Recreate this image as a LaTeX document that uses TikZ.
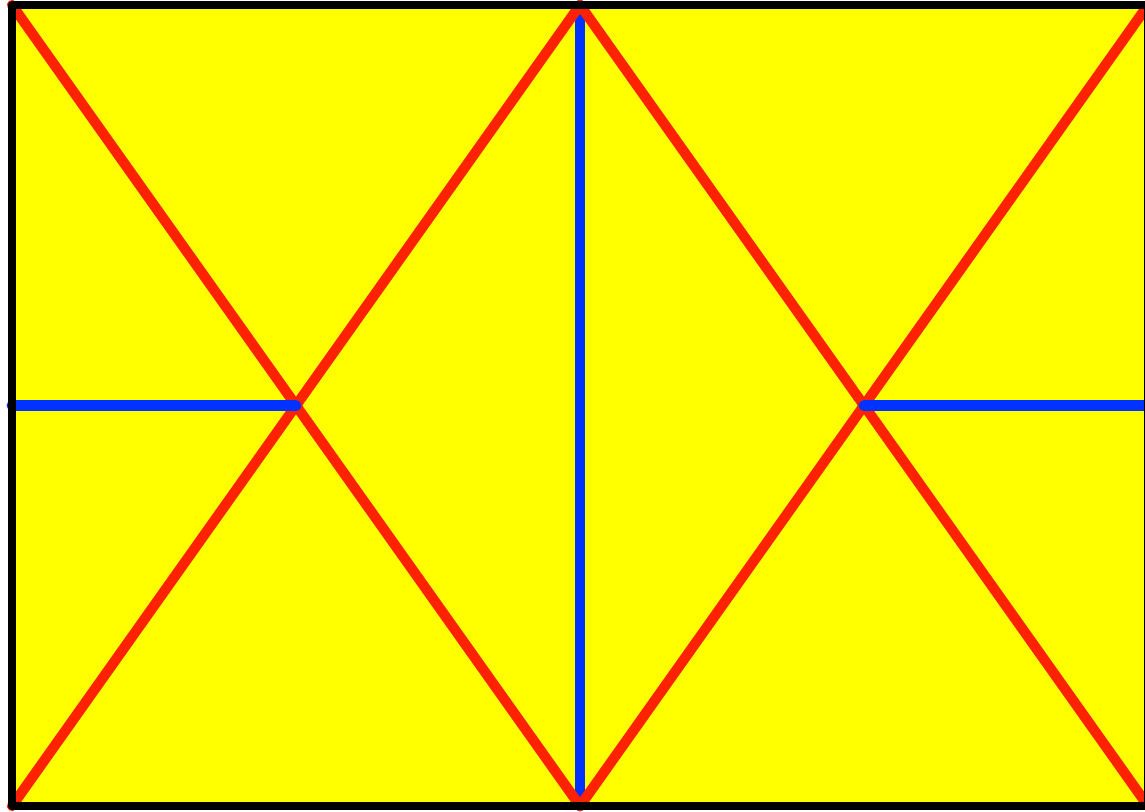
\documentclass[tikz,border=0pt]{standalone}
\definecolor{fillyel}{RGB}{255,255,0}
\definecolor{redl}{RGB}{255,34,0}
\definecolor{bluel}{RGB}{0,51,255}
\tikzset{
  redline/.style={draw=redl,line width=2.9pt,line cap=round},
  blueline/.style={draw=bluel,line width=3.1pt,line cap=round},
  border/.style={draw=black,line width=2.4pt,line join=round}
}
\begin{document}
\begin{tikzpicture}[x=0.01cm,y=-0.01cm]
\useasboundingbox (0,0) rectangle (1145,811);
\coordinate (TL) at (12,5);
\coordinate (TM) at (580,5);
\coordinate (TR) at (1148,5);
\coordinate (BL) at (12,806);
\coordinate (BM) at (580,806);
\coordinate (BR) at (1148,806);
\coordinate (ML) at (12,405.5);
\coordinate (MR) at (1148,405.5);
\coordinate (XL) at (296,405.5);
\coordinate (XR) at (864,405.5);
\fill[fillyel] (TL) rectangle (BR);
\draw[blueline] (TM) -- (BM);
\draw[redline] (TL) -- (BM);
\draw[redline] (BL) -- (TM);
\draw[redline] (TM) -- (BR);
\draw[redline] (BM) -- (TR);
\draw[blueline] (ML) -- (XL);
\draw[blueline] (XR) -- (MR);
\draw[border] (TL) rectangle (BR);
\end{tikzpicture}
\end{document}
